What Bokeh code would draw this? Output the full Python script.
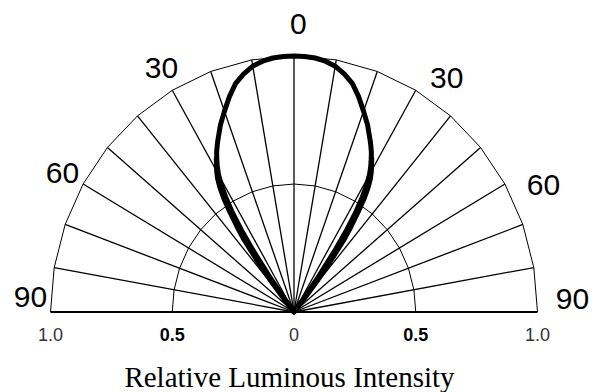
import numpy as np
from bokeh.plotting import figure
from bokeh.models import Range1d, ColumnDataSource
from bokeh.embed import file_html
from bokeh.resources import INLINE
from bokeh.core.properties import value

# ---------------- data ----------------
# polar grid
grid_angles = [-80, -70, -60, -50, -40, -30, -20, -10, 0, 10, 20, 30, 40, 50, 60, 70, 80]
ring_levels = [0.5, 1.0]
ring_angles = [-90, -80, -70, -60, -50, -40, -30, -20, -10, 0, 10, 20, 30, 40, 50, 60, 70, 80, 90]

# angle labels
angle_labels = ["90", "60", "30", "0", "30", "60", "90"]
# radial tick labels
radial_values = [-1.0, -0.5, 0.0, 0.5, 1.0]
radial_labels = ["1.0", "0.5", "0", "0.5", "1.0"]

# relative luminous intensity, main trace
angles_a = [-38, -37, -36, -35, -34, -33, -32, -31, -30, -29, -28, -27, -26, -25,
            -22.5, -20, -17.5, -15, -12.5, -10, -7.5, -5, -2.5,
            0, 2.5, 5, 7.5, 10, 12.5, 15, 17.5, 20, 22.5,
            25, 26, 27, 28, 29, 30, 31, 32, 33, 34, 35, 36, 37, 38]
intens_a = [0.0, 0.06, 0.17, 0.29, 0.39, 0.47, 0.53, 0.58, 0.62, 0.65, 0.675, 0.70, 0.72, 0.74,
            0.79, 0.835, 0.882, 0.925, 0.953, 0.975, 0.988, 0.996, 0.999,
            1.0, 0.999, 0.996, 0.988, 0.975, 0.953, 0.925, 0.882, 0.835, 0.79,
            0.74, 0.72, 0.70, 0.675, 0.65, 0.62, 0.58, 0.53, 0.47, 0.39, 0.29, 0.17, 0.06, 0.0]
# second trace, visible on the lower flanks only
angles_b_left = [-40, -39, -38, -37, -36, -35, -34, -33, -32, -31, -30, -28]
intens_b_left = [0.0, 0.06, 0.16, 0.25, 0.35, 0.41, 0.47, 0.53, 0.575, 0.61, 0.635, 0.68]
angles_b_right = [28, 30, 31, 32, 33, 34, 35, 36, 37, 38, 39, 40]
intens_b_right = [0.68, 0.635, 0.61, 0.575, 0.53, 0.47, 0.41, 0.35, 0.25, 0.16, 0.06, 0.0]

# ---------------- layout ----------------
label_theta = [-87.0, -60.2, -29.7, 0.9, 34.4, 64.25, 87.4]
label_r = [1.0836, 1.0958, 1.0992, 1.1232, 1.1097, 1.1375, 1.1449]

W, H = 597, 392
CX, CY, SX, SY = 293.5, 311.5, 243.5, 256.0
p = figure(width=W, height=H, output_backend="svg", toolbar_location=None,
           x_range=Range1d(-CX / SX, (W - CX) / SX), y_range=Range1d((CY - H) / SY, CY / SY),
           min_border=0, min_border_left=0, min_border_right=0,
           min_border_top=0, min_border_bottom=0)
p.axis.visible = False
p.grid.visible = False
p.outline_line_color = None
p.background_fill_color = "white"
p.border_fill_color = "white"


def pol(theta_deg, r):
    t = np.radians(np.asarray(theta_deg, dtype=float))
    r = np.asarray(r, dtype=float)
    return r * np.sin(t), r * np.cos(t)


# rings (polygonal)
for lvl in ring_levels:
    rx, ry = pol(ring_angles, [lvl] * len(ring_angles))
    p.line(rx, ry, line_color="black", line_width=1.0)

# spokes
sx, sy = pol(grid_angles, [1.0] * len(grid_angles))
p.segment(x0=[0] * len(grid_angles), y0=[0] * len(grid_angles), x1=sx, y1=sy,
          line_color="black", line_width=1.3)

# baseline
p.segment(x0=[radial_values[0]], y0=[0], x1=[radial_values[-1]], y1=[0],
          line_color="black", line_width=2)

# curves
ax, ay = pol(angles_a, intens_a)
p.line(ax, ay, line_color="black", line_width=5, line_join="round")
for angs, vals in ((angles_b_left, intens_b_left), (angles_b_right, intens_b_right)):
    bx, by = pol(angs, vals)
    p.line(bx, by, line_color="black", line_width=5, line_join="round", line_cap="round")

# angle labels
lx, ly = pol(label_theta, label_r)
p.text(x=lx, y=ly, text=angle_labels, text_font=value("Liberation Sans"),
       text_font_size="30px", text_align="center", text_baseline="middle",
       text_color="black")

# radial tick labels
tick_y = -22.0 / SY
colors = ["#333333", "black", "#333333", "black", "#333333"]
styles = ["normal", "bold", "normal", "bold", "normal"]
src = ColumnDataSource(dict(x=radial_values, y=[tick_y] * 5, t=radial_labels, c=colors, s=styles))
p.text(x="x", y="y", text="t", source=src, text_font=value("Liberation Sans"),
       text_font_size="18px", text_align="center", text_baseline="middle",
       text_color="c", text_font_style="s")

# axis title
p.text(x=[-4.5 / SX], y=[-65.0 / SY], text=["Relative Luminous Intensity"],
       text_font=value("Liberation Serif"), text_font_size="29px",
       text_align="center", text_baseline="middle", text_color="black")

open("out.html", "w").write(file_html(p, INLINE))
